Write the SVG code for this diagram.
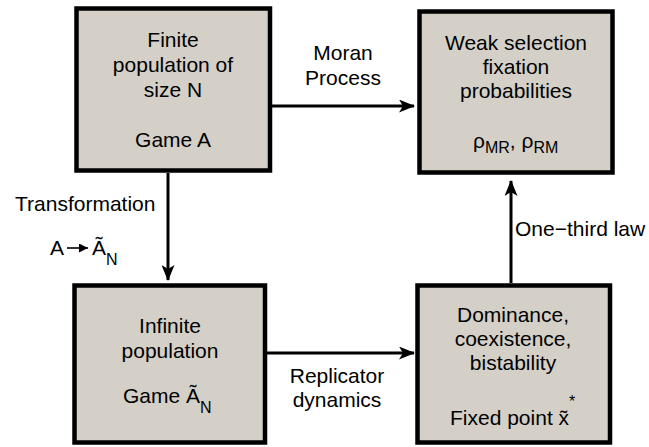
<svg xmlns="http://www.w3.org/2000/svg" width="649" height="447" viewBox="0 0 649 447">
<defs>
<style>
.box{fill:#d4d0c8;stroke:#000;stroke-width:4.5}
.t{font-family:"Liberation Sans",Arial,sans-serif;font-size:21px;fill:#000}
.m{text-anchor:middle}
.s{font-size:16px}
.c{stroke:#000;stroke-width:3;fill:none}
</style>
<marker id="ah" markerUnits="userSpaceOnUse" markerWidth="16" markerHeight="13" viewBox="0 0 16 13" refX="15" refY="6.5" orient="auto">
<path d="M0,0 L16,6.5 L0,13 L4,6.5 z" fill="#000"/>
</marker>
<marker id="ah2" markerUnits="userSpaceOnUse" markerWidth="9" markerHeight="9" viewBox="0 0 9 9" refX="9" refY="4.5" orient="auto">
<path d="M0,0 L9,4.5 L0,9 z" fill="#000"/>
</marker>
</defs>
<rect width="649" height="447" fill="#fff"/>
<g id="connectors">
<line class="c" x1="272" y1="106" x2="414" y2="106" marker-end="url(#ah)"/>
<line class="c" x1="168" y1="173" x2="168" y2="280" marker-end="url(#ah)"/>
<line class="c" x1="267" y1="353" x2="414" y2="353" marker-end="url(#ah)"/>
<line class="c" x1="511" y1="283" x2="511" y2="181" marker-end="url(#ah)"/>
<text class="t m" x="343" y="60">Moran</text>
<text class="t m" x="343" y="85">Process</text>
<text class="t" x="15" y="211">Transformation</text>
<text class="t" x="50" y="255">A</text>
<line x1="67" y1="248" x2="88" y2="248" stroke="#000" stroke-width="1.6" marker-end="url(#ah2)"/>
<text class="t" x="92" y="255">Ã<tspan class="s" dy="10">N</tspan></text>
<text class="t m" x="337" y="383">Replicator</text>
<text class="t m" x="337" y="407">dynamics</text>
<text class="t" x="515" y="236">One−third law</text>
</g>
<g id="finite">
<rect class="box" x="76.5" y="8.5" width="193.5" height="162"/>
<text class="t m" x="173" y="47">Finite</text>
<text class="t m" x="173" y="72">population of</text>
<text class="t m" x="173" y="97">size N</text>
<text class="t m" x="173" y="147">Game A</text>
</g>
<g id="weak">
<rect class="box" x="419.5" y="11.5" width="193" height="161"/>
<text class="t m" x="516" y="50">Weak selection</text>
<text class="t m" x="516" y="74">fixation</text>
<text class="t m" x="516" y="98">probabilities</text>
<text class="t" x="473" y="148">ρ<tspan class="s" dy="5">MR</tspan><tspan dy="-5">, ρ</tspan><tspan class="s" dy="5">RM</tspan></text>
</g>
<g id="infinite">
<rect class="box" x="74.5" y="285.5" width="190.5" height="157"/>
<text class="t m" x="170" y="333">Infinite</text>
<text class="t m" x="170" y="358">population</text>
<text class="t" x="123" y="403">Game Ã<tspan class="s" dy="10">N</tspan></text>
</g>
<g id="dominance">
<rect class="box" x="417.5" y="285.5" width="192.5" height="157"/>
<text class="t m" x="513" y="322">Dominance,</text>
<text class="t m" x="513" y="346">coexistence,</text>
<text class="t m" x="513" y="370">bistability</text>
<text class="t" x="450" y="425">Fixed point x̃<tspan class="s" dy="-18">*</tspan></text>
</g>
</svg>
